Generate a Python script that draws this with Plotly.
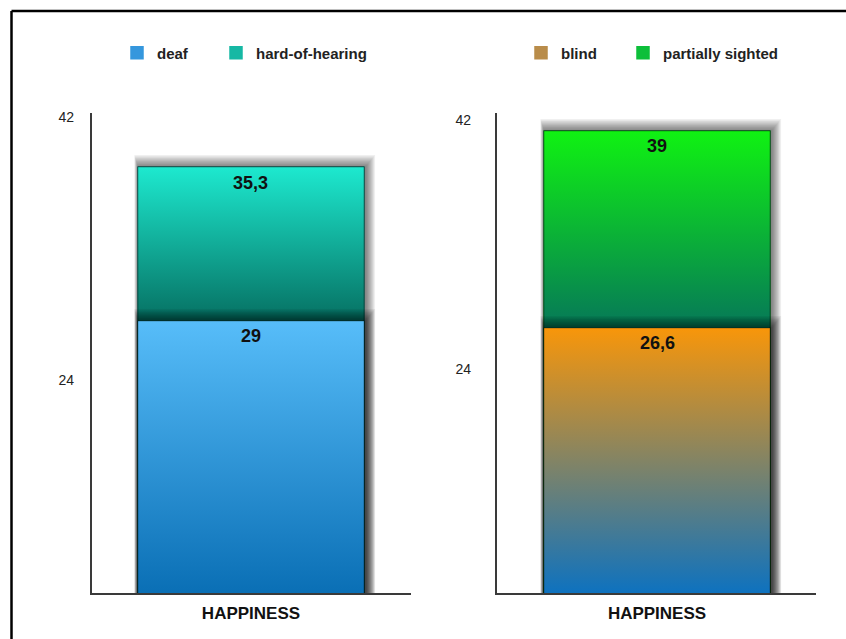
import plotly.graph_objects as go

W, H = 846, 639

# ---- data -------------------------------------------------------------
categories = ["HAPPINESS"]
hearing_names = ["deaf", "hard-of-hearing"]
hearing_values = [29, 35.3]
sight_names = ["blind", "partially sighted"]
sight_values = [26.6, 39]
tick_values = [24, 42]

# ---- styling ----------------------------------------------------------
FONT = "Liberation Sans, Arial, Helvetica, sans-serif"
hearing_gradients = [("#0A6FB5", "#57BDF9"), ("#067062", "#1DE9CF")]
sight_gradients = [("#0E72BF", "#F8960A"), ("#067858", "#10F212")]
hearing_swatches = ["#3597DD", "#16B8A4"]
sight_swatches = ["#B98C4A", "#0DBF3A"]

X_DOMAINS = [(92 / W, 411 / W), (497 / W, 816 / W)]
Y_DOMAIN = (1 - 593 / H, 1 - 113 / H)
X_RANGES = [(-0.7035, 0.708), (-0.708, 0.7035)]
BAR_RANGES = [(17.87, 37.51), (9.92, 40.13)]
TICK_RANGES = [(9.42, 42.27), (7.80, 42.51)]
TICK_STANDOFF = [17, 25]
HALF = 0.5  # half bar width in x units
LEGEND_X = [[137, 236], [541, 643]]  # swatch centres, px

panels = [
    (hearing_names, hearing_values, hearing_gradients, hearing_swatches),
    (sight_names, sight_values, sight_gradients, sight_swatches),
]


def px_x(px, p):
    r, d = X_RANGES[p], X_DOMAINS[p]
    return px * (r[1] - r[0]) / ((d[1] - d[0]) * W)


def px_y(px, p):
    r = BAR_RANGES[p]
    return px * (r[1] - r[0]) / ((Y_DOMAIN[1] - Y_DOMAIN[0]) * H)


def rect(x0, x1, y0, y1):
    return [x0, x0, x1, x1, x0], [y0, y1, y1, y0, y0]


fig = go.Figure()

# solid bars (carry the legend entries), one legend per series
legend_ids = []
for p, (names, values, grads, swatches) in enumerate(panels):
    xa = "x" if p == 0 else "x2"
    ya = "y" if p == 0 else "y2"
    for j, (name, val, sw) in enumerate(zip(names, values, swatches)):
        n = 2 * p + j + 1
        leg = "legend" if n == 1 else f"legend{n}"
        legend_ids.append((leg, LEGEND_X[p][j]))
        fig.add_trace(go.Bar(
            x=[0], y=[val], width=2 * HALF, name=name, legend=leg,
            marker=dict(color=sw, line=dict(width=1.5, color=sw)),
            xaxis=xa, yaxis=ya, hoverinfo="skip",
        ))

# gradient faces with soft drop shadows, back bar first
N_SHADOW, SPREAD, ALPHA = 10, 12.0, 0.06
annotations = []
for p, (names, values, grads, swatches) in enumerate(panels):
    xa = "x" if p == 0 else "x2"
    ya = "y" if p == 0 else "y2"
    bottom = BAR_RANGES[p][0]
    order = sorted(range(len(values)), key=lambda i: -values[i])
    for i in order:
        val = values[i]
        below = [v for v in values if v < val]
        g_start = max(below) if below else bottom
        for k in range(N_SHADOW):
            d = (k + 1) * SPREAD / N_SHADOW
            xs, ys = rect(-HALF - px_x(0.3 * d, p), HALF + px_x(0.8 * d + 1.5, p),
                          bottom - 5, val + px_y(d, p))
            fig.add_trace(go.Scatter(
                x=xs, y=ys, mode="lines", fill="toself",
                fillcolor=f"rgba(0,0,0,{ALPHA})", line=dict(width=0),
                showlegend=False, hoverinfo="skip", xaxis=xa, yaxis=ya,
            ))
        xs, ys = rect(-HALF, HALF, bottom - 5, val)
        c0, c1 = grads[i]
        fig.add_trace(go.Scatter(
            x=xs, y=ys, mode="lines", fill="toself",
            fillgradient=dict(type="vertical", colorscale=[[0, c0], [1, c1]],
                              start=g_start, stop=val),
            line=dict(width=1, color="rgba(0,0,0,0.3)"),
            showlegend=False, hoverinfo="skip", xaxis=xa, yaxis=ya,
        ))
    # value labels just under each bar top
    for val in values:
        annotations.append(dict(
            x=0, y=val, xref=xa, yref=ya, yshift=-15.5, showarrow=False,
            xanchor="center", yanchor="middle",
            text=f"{val:g}".replace(".", ","),
            font=dict(family=FONT, size=18, color="#111", weight="bold"),
        ))
    # empty trace so the tick-label axis is laid out
    fig.add_trace(go.Scatter(x=[], y=[], xaxis=xa, yaxis="y3" if p == 0 else "y4",
                             showlegend=False, hoverinfo="skip"))

axis_line = dict(showline=True, linecolor="#3a3a3a", linewidth=1.5,
                 showgrid=False, zeroline=False, ticks="")

layout = dict(
    width=W, height=H, template="none", barmode="overlay",
    margin=dict(l=0, r=0, t=0, b=0),
    paper_bgcolor="white", plot_bgcolor="white", hovermode=False,
    font=dict(family=FONT, color="#222"),
    annotations=annotations,
)
for p in range(2):
    xs = "" if p == 0 else "2"
    layout["xaxis" + xs] = dict(
        domain=list(X_DOMAINS[p]), range=list(X_RANGES[p]), anchor="y" + xs,
        tickvals=[0], ticktext=categories, ticklabelstandoff=4,
        tickfont=dict(family=FONT, size=17, color="#111", weight="bold"),
        **axis_line,
    )
    layout["yaxis" + xs] = dict(
        domain=list(Y_DOMAIN), range=list(BAR_RANGES[p]), anchor="x" + xs,
        showticklabels=False, **axis_line,
    )
    tick_ax = "yaxis" + ("3" if p == 0 else "4")
    layout[tick_ax] = dict(
        overlaying="y" + xs, anchor="x" + xs, side="left",
        range=list(TICK_RANGES[p]), tickvals=tick_values,
        ticks="", showline=False, showgrid=False, zeroline=False,
        ticklabelstandoff=TICK_STANDOFF[p],
        tickfont=dict(family=FONT, size=14, color="#222"),
    )

for leg, cx in legend_ids:
    layout[leg] = dict(
        orientation="h", xanchor="left", yanchor="middle",
        x=(cx - 20) / W, y=1 - 53 / H,
        font=dict(family=FONT, size=15, color="#222", weight="bold"),
        bgcolor="rgba(0,0,0,0)", borderwidth=0, itemwidth=30,
        itemclick=False, itemdoubleclick=False,
    )

# frame lines along the top and left edges
layout["shapes"] = [
    dict(type="line", xref="paper", yref="paper", x0=11.5 / W, x1=1.01,
         y0=1 - 11 / H, y1=1 - 11 / H, line=dict(color="black", width=2.5)),
    dict(type="line", xref="paper", yref="paper", x0=11.5 / W, x1=11.5 / W,
         y0=1 - 11 / H, y1=-0.01, line=dict(color="black", width=2.5)),
]

fig.update_layout(**layout)
fig.write_html("out.html")
